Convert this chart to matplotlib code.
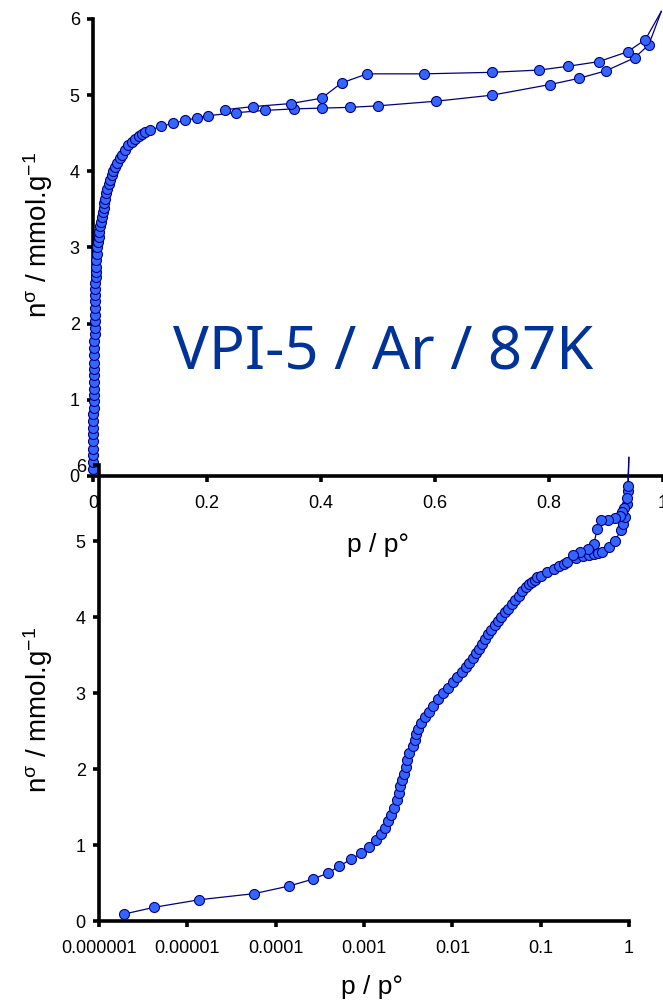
import matplotlib
matplotlib.use("Agg")
import matplotlib.pyplot as plt

plt.rcParams['font.family'] = ['Liberation Sans', 'DejaVu Sans']
plt.rcParams['mathtext.fontset'] = 'custom'
plt.rcParams['mathtext.rm'] = 'Liberation Sans'
plt.rcParams['mathtext.it'] = 'Liberation Sans:italic'

# Argon adsorption isotherm on VPI-5 at 87 K (relative pressure, mmol/g)
ads_p = [1.9e-6, 4.2e-6, 1.37e-5, 5.7e-5, 1.42e-4, 2.62e-4, 3.9e-4, 5.2e-4,
         7.1e-4, 9.2e-4, 1.15e-3, 1.37e-3, 1.55e-3, 1.73e-3, 1.88e-3, 2.02e-3,
         2.19e-3, 2.34e-3, 2.47e-3, 2.58e-3, 2.72e-3, 2.84e-3, 2.99e-3, 3.09e-3,
         3.21e-3, 3.61e-3, 3.74e-3, 3.91e-3, 4.12e-3, 4.42e-3, 4.86e-3, 5.40e-3,
         6.04e-3, 6.82e-3, 7.76e-3, 8.85e-3, 1.007e-2, 1.14e-2, 1.29e-2, 1.42e-2,
         1.56e-2, 1.70e-2, 1.85e-2, 2.00e-2, 2.17e-2, 2.34e-2, 2.54e-2, 2.76e-2,
         3.01e-2, 3.29e-2, 3.58e-2, 3.92e-2, 4.27e-2, 4.69e-2, 5.16e-2, 5.69e-2,
         0.062, 0.068, 0.074, 0.080, 0.086, 0.092, 0.100, 0.119, 0.141, 0.162,
         0.182, 0.201, 0.251, 0.302, 0.352, 0.401, 0.451, 0.500, 0.601, 0.700,
         0.802, 0.852, 0.900, 0.950, 0.975, 0.997]
ads_n = [0.09, 0.18, 0.28, 0.36, 0.46, 0.55, 0.63, 0.72,
         0.81, 0.89, 0.98, 1.07, 1.14, 1.23, 1.32, 1.40,
         1.49, 1.59, 1.68, 1.77, 1.86, 1.94, 2.03, 2.12,
         2.21, 2.30, 2.38, 2.46, 2.53, 2.61, 2.68, 2.75,
         2.83, 2.92, 3.00, 3.07, 3.14, 3.21, 3.28, 3.34,
         3.40, 3.46, 3.52, 3.58, 3.64, 3.71, 3.77, 3.83,
         3.89, 3.95, 4.00, 4.06, 4.11, 4.17, 4.22, 4.28,
         4.34, 4.39, 4.43, 4.46, 4.49, 4.52, 4.54, 4.59, 4.63, 4.67,
         4.70, 4.73, 4.77, 4.80, 4.82, 4.83, 4.84, 4.86, 4.92, 5.00,
         5.14, 5.22, 5.32, 5.49, 5.66, 6.10]

# Desorption branch, starting from the highest pressure
des_p = [0.997, 0.969, 0.938, 0.887, 0.834, 0.783, 0.700, 0.581, 0.481,
         0.436, 0.401, 0.347, 0.281, 0.232]
des_n = [6.10, 5.73, 5.57, 5.44, 5.38, 5.33, 5.30, 5.28, 5.28,
         5.16, 4.96, 4.89, 4.85, 4.81]

lin_ticks = [0, 0.2, 0.4, 0.6, 0.8, 1.0]
lin_ticklabels = ['0', '0.2', '0.4', '0.6', '0.8', '1']
log_ticks = [1e-6, 1e-5, 1e-4, 1e-3, 1e-2, 1e-1, 1]
log_ticklabels = ['0.000001', '0.00001', '0.0001', '0.001', '0.01', '0.1', '1']
n_ticks = [0, 1, 2, 3, 4, 5, 6]

title = 'VPI-5 / Ar / 87K'
xlabel = 'p / p°'
ylabel = r'n$^{\mathrm{\sigma}}$ / mmol.g$^{-1}$'

LINE = '#000080'
FACE = '#3366FF'

fig = plt.figure(figsize=(6.63, 10.05), dpi=100)
W, H = 663.0, 1005.0

ax_lin = fig.add_axes([93 / W, 1 - 476 / H, 570 / W, 457 / H])
ax_log = fig.add_axes([99 / W, 1 - 921 / H, 530 / W, 456 / H])
for ax in (ax_lin, ax_log):
    ax.patch.set_alpha(0)


def draw_adsorption(ax, p, n):
    # the last point closes the loop at saturation and carries no marker
    ax.plot(p, n, '-', color=LINE, lw=0.9, zorder=3, clip_on=False)
    ax.plot(p[:-1], n[:-1], 'o', ms=7.2, mfc=FACE, mec=LINE, mew=0.8,
            zorder=4, clip_on=False)


def draw_desorption(ax, p, n):
    ax.plot(p, n, '-', color=LINE, lw=0.9, zorder=3, clip_on=False)
    ax.plot(p[1:], n[1:], 'o', ms=7.2, mfc=FACE, mec=LINE, mew=0.8,
            zorder=4, clip_on=False)


def style(ax):
    for s in ('top', 'right'):
        ax.spines[s].set_visible(False)
    for s in ('left', 'bottom'):
        ax.spines[s].set_linewidth(2.6)
        ax.spines[s].set_color('black')
    ax.tick_params(axis='both', which='major', direction='out', length=4.5,
                   width=2.6, color='black', labelsize=13)
    ax.tick_params(axis='x', pad=9)
    ax.tick_params(axis='y', pad=5)
    ax.tick_params(which='minor', length=0)
    ax.set_ylim(0, 6)
    ax.set_yticks(n_ticks)
    ax.set_yticklabels([str(t) for t in n_ticks])


# linear pressure scale
draw_adsorption(ax_lin, ads_p, ads_n)
draw_desorption(ax_lin, des_p, des_n)
style(ax_lin)
ax_lin.set_xlim(0, 1)
ax_lin.set_xticks(lin_ticks)
ax_lin.set_xticklabels(lin_ticklabels)
ax_lin.set_xlabel(xlabel, fontsize=19)
ax_lin.xaxis.set_label_coords(0.5, -0.124)
ax_lin.set_ylabel(ylabel, fontsize=20)
ax_lin.yaxis.set_label_coords(-0.066, 0.527)

# logarithmic pressure scale
draw_adsorption(ax_log, ads_p, ads_n)
draw_desorption(ax_log, des_p, des_n)
style(ax_log)
ax_log.set_xscale('log')
ax_log.set_xlim(1e-6, 1)
ax_log.set_xticks(log_ticks)
ax_log.set_xticklabels(log_ticklabels)
ax_log.set_xlabel(xlabel, fontsize=19)
ax_log.xaxis.set_label_coords(0.515, -0.118)
ax_log.set_ylabel(ylabel, fontsize=20)
ax_log.yaxis.set_label_coords(-0.083, 0.463)

fig.text(383 / W, 1 - 370 / H, title, family=['Noto Sans', 'DejaVu Sans'],
         fontsize=43, color='#003399', ha='center', va='baseline')

fig.savefig('out.png', dpi=100)
